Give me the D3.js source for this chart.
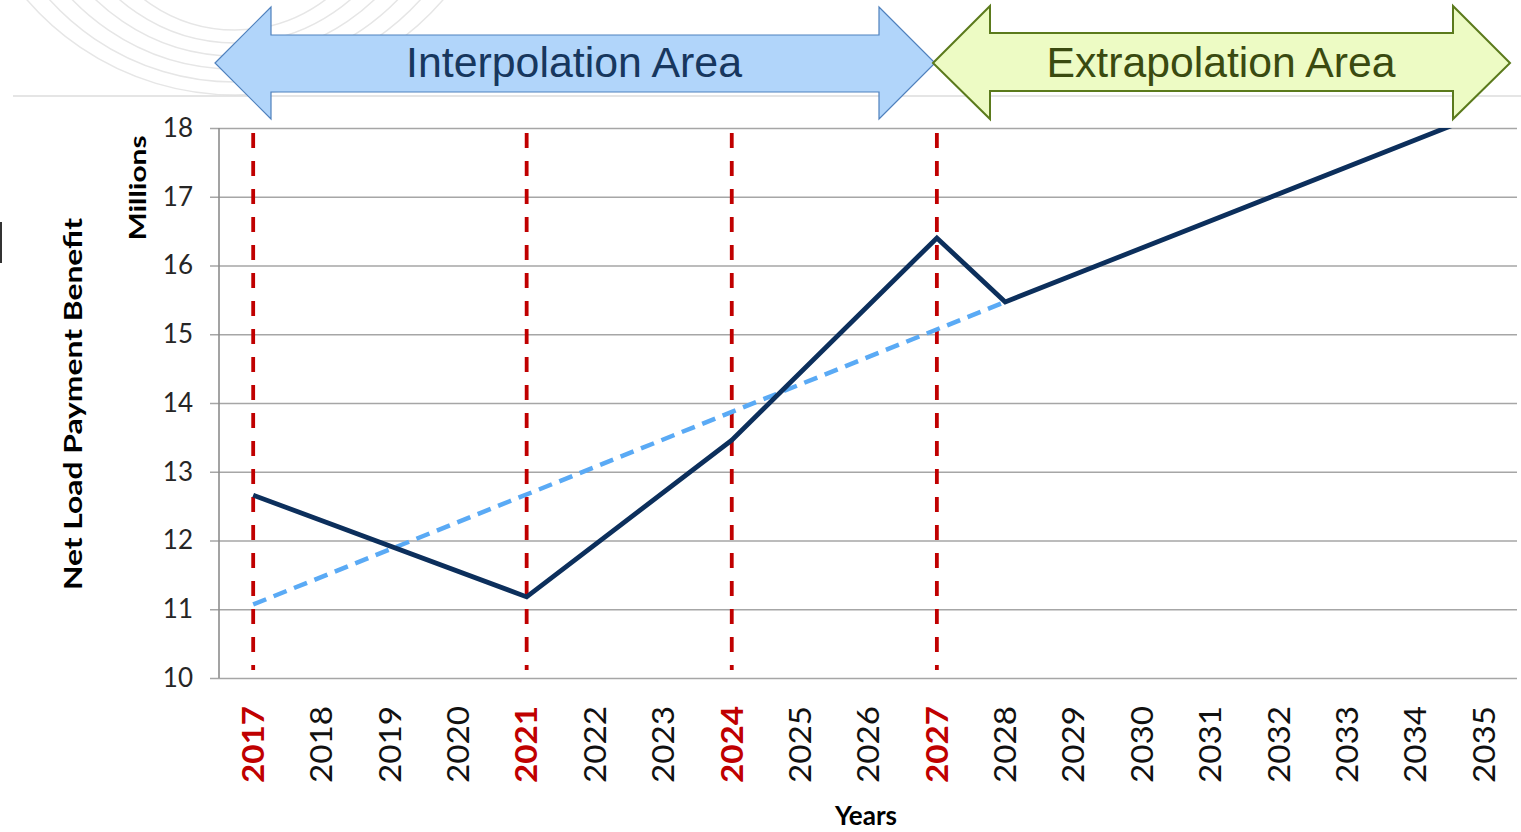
<!DOCTYPE html>
<html>
<head>
<meta charset="utf-8">
<script src="https://d3js.org/d3.v7.min.js"></script>
<style>
  body { margin: 0; background: #fff; }
  svg { display: block; font-family: Lato, "Open Sans", sans-serif; }
</style>
</head>
<body>
<div id="chart"></div>
<script>

// chart values
var years = ["2017","2018","2019","2020","2021","2022","2023","2024","2025","2026",
             "2027","2028","2029","2030","2031","2032","2033","2034","2035"];
var markedYears = ["2017","2021","2024","2027"];
// solid line: only the visible corners, straight segments in between
var actual = [12.66, null, null, null, 11.18, null, null, 13.46, null, null,
              16.40, 15.47, null, null, null, null, null, null, 18.22];
// dashed trend line
var trend = [11.07, null, null, null, null, null, null, null, null, null,
             null, 15.47, null, null, null, null, null, null, null];
var yTicks = [10, 11, 12, 13, 14, 15, 16, 17, 18];
var areas = [
  {label: "Interpolation Area", from: 215, to: 935},
  {label: "Extrapolation Area", from: 933, to: 1510}
];

var W = 1521, H = 832;
// plot box (note: "top" is reserved on window, so use plot* names)
var plotL = 219, plotR = 1518, plotT = 128, plotB = 678;

var svg = d3.select("#chart").append("svg")
    .attr("width", W)
    .attr("height", H);

// faint watermark arcs in the top left corner
var wm = svg.append("g");
[150, 175, 200, 225, 250, 275].forEach(function(r, i) {
  wm.append("path")
    .attr("d", d3.arc()({innerRadius: r, outerRadius: r, startAngle: Math.PI * 0.62, endAngle: Math.PI * 1.38}))
    .attr("transform", "translate(235," + (-120 - i * 12) + ")")
    .attr("fill", "none")
    .attr("stroke", "#e6e6e6")
    .attr("stroke-width", 1.5);
});
svg.append("line")
  .attr("x1", 13).attr("x2", W).attr("y1", 96).attr("y2", 96)
  .attr("stroke", "#dcdcdc").attr("stroke-width", 1.5);
svg.append("rect").attr("x", 0).attr("y", 222).attr("width", 2).attr("height", 41).attr("fill", "#333");

// scales
var x = d3.scaleBand().domain(years).range([plotL, plotR]);
var y = d3.scaleLinear().domain([10, 18]).range([plotB, plotT]);
var cx = function(yr) { return x(yr) + x.bandwidth() / 2; };

// grid + y labels
var yAxis = svg.append("g")
  .attr("transform", "translate(1517,0)")
  .call(d3.axisLeft(y).tickValues(yTicks).tickSize(1517 - 210).tickPadding(17).tickFormat(d3.format("d")));
yAxis.select(".domain").remove();
yAxis.selectAll(".tick line").attr("stroke", "#a6a6a6").attr("stroke-width", 1.6);
yAxis.selectAll(".tick text")
  .attr("font-size", 26)
  .attr("fill", "#262626")
  .attr("font-family", "Lato, sans-serif");

svg.append("line")
  .attr("x1", plotL).attr("x2", plotL).attr("y1", plotT).attr("y2", plotB)
  .attr("stroke", "#8c8c8c").attr("stroke-width", 1.6);

// x labels
var xAxis = svg.append("g")
  .attr("transform", "translate(0," + plotB + ")")
  .call(d3.axisBottom(x).tickSize(0));
xAxis.select(".domain").remove();
xAxis.selectAll(".tick text")
  .attr("x", 0).attr("y", 0).attr("dy", "0.36em")
  .attr("transform", "translate(0,28) rotate(-90)")
  .attr("text-anchor", "end")
  .attr("font-family", "Lato, sans-serif")
  .attr("font-size", 30)
  .attr("textLength", 77)
  .attr("lengthAdjust", "spacingAndGlyphs")
  .attr("font-weight", function(d) { return markedYears.indexOf(d) >= 0 ? "bold" : "normal"; })
  .attr("fill", function(d) { return markedYears.indexOf(d) >= 0 ? "#c00000" : "#111"; });

// axis titles
svg.append("text")
  .attr("transform", "translate(" + 82 + "," + 404 + ") rotate(-90)")
  .attr("text-anchor", "middle")
  .attr("font-size", 25).attr("font-weight", "bold")
  .attr("textLength", 372).attr("lengthAdjust", "spacingAndGlyphs")
  .text("Net Load Payment Benefit");
svg.append("text")
  .attr("transform", "translate(" + 146 + "," + 188 + ") rotate(-90)")
  .attr("text-anchor", "middle")
  .attr("font-size", 23).attr("font-weight", "bold")
  .attr("textLength", 105).attr("lengthAdjust", "spacingAndGlyphs")
  .text("Millions");
svg.append("text")
  .attr("x", 866).attr("y", 825)
  .attr("text-anchor", "middle")
  .attr("font-size", 26).attr("font-weight", "bold")
  .text("Years");

// red dashed markers
svg.append("g").selectAll("line")
  .data(markedYears)
  .join("line")
    .attr("x1", cx).attr("x2", cx)
    .attr("y1", 133).attr("y2", 670)
    .attr("stroke", "#c00000")
    .attr("stroke-width", 3.8)
    .attr("stroke-dasharray", "15,13");

svg.append("clipPath").attr("id", "plot")
  .append("rect").attr("x", plotL).attr("y", plotT).attr("width", plotR - plotL).attr("height", plotB - plotT);

var pts = function(vals) {
  return years.map(function(yr, i) { return {year: yr, v: vals[i]}; })
    .filter(function(d) { return d.v != null; });
};
var line = d3.line()
  .x(function(d) { return cx(d.year); })
  .y(function(d) { return y(d.v); });

svg.append("path")
  .datum(pts(trend))
  .attr("fill", "none")
  .attr("stroke", "#5aaaf5")
  .attr("stroke-width", 4.5)
  .attr("stroke-dasharray", "14,8")
  .attr("d", line);

svg.append("path")
  .datum(pts(actual))
  .attr("clip-path", "url(#plot)")
  .attr("fill", "none")
  .attr("stroke", "#0c2f5c")
  .attr("stroke-width", 4.8)
  .attr("stroke-linejoin", "miter")
  .attr("d", line);

// double headed arrows on top
var arrow = function(a, headW, bodyTop, bodyBot, headTop, headBot) {
  var mid = 63;
  return "M" + a.from + "," + mid +
    "L" + (a.from + headW) + "," + headTop +
    "L" + (a.from + headW) + "," + bodyTop +
    "L" + (a.to - headW) + "," + bodyTop +
    "L" + (a.to - headW) + "," + headTop +
    "L" + a.to + "," + mid +
    "L" + (a.to - headW) + "," + headBot +
    "L" + (a.to - headW) + "," + bodyBot +
    "L" + (a.from + headW) + "," + bodyBot +
    "L" + (a.from + headW) + "," + headBot + "Z";
};

svg.append("path")
  .attr("d", arrow(areas[0], 56, 35, 92, 7, 119))
  .attr("fill", "#b1d5fa")
  .attr("stroke", "#4f81bd")
  .attr("stroke-width", 1.2);
svg.append("path")
  .attr("d", arrow(areas[1], 57, 33, 91, 6, 119))
  .attr("fill", "#edfbc4")
  .attr("stroke", "#5b7a1c")
  .attr("stroke-width", 2);

svg.append("text")
  .attr("x", 574).attr("y", 77)
  .attr("text-anchor", "middle")
  .attr("font-family", "'Liberation Sans', Arial, sans-serif")
  .attr("font-size", 42)
  .attr("fill", "#17375e")
  .attr("textLength", 336).attr("lengthAdjust", "spacingAndGlyphs")
  .text(areas[0].label);
svg.append("text")
  .attr("x", 1221).attr("y", 77)
  .attr("text-anchor", "middle")
  .attr("font-family", "'Liberation Sans', Arial, sans-serif")
  .attr("font-size", 42)
  .attr("fill", "#3a4a10")
  .attr("textLength", 349).attr("lengthAdjust", "spacingAndGlyphs")
  .text(areas[1].label);

</script>
</body>
</html>
